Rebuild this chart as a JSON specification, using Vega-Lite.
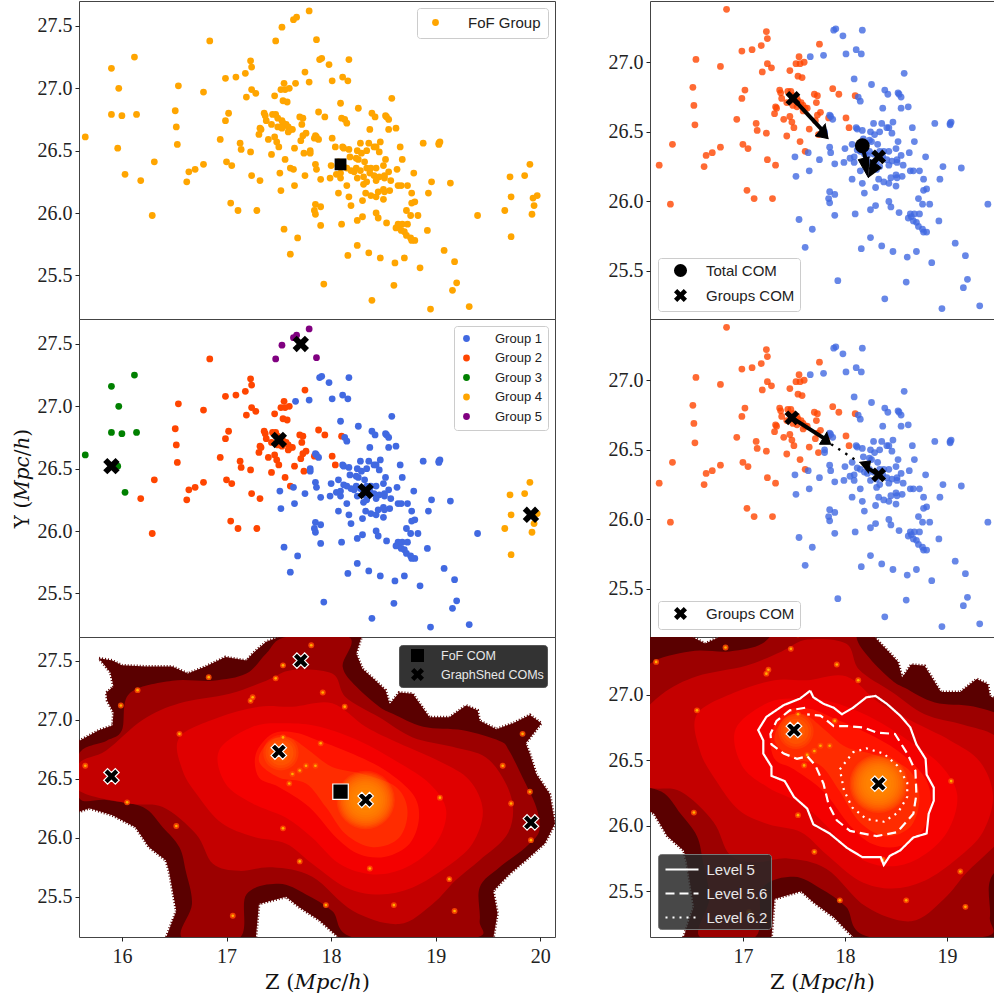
{"$schema":"https://vega.github.io/schema/vega-lite/v6.json","background":"white","padding":{"left":11,"top":0,"right":0,"bottom":0},
"config":{"view":{"stroke":"#444","strokeWidth":1,"continuousWidth":476,"continuousHeight":318},
"axis":{"grid":false,"domain":false,"ticks":true,"tickSize":4,"tickColor":"#222","labelFont":"Liberation Serif","labelFontSize":20,"labelColor":"#222","labelPadding":3,"titleFont":"DejaVu Serif","titleFontWeight":"normal","titleFontSize":18,"titleColor":"#111","title":null},
"legend":{"title":null,"labelFont":"Liberation Sans","labelFontSize":14,"labelColor":"#222","cornerRadius":3,"strokeColor":"#ccc","fillColor":"white","padding":7,"offset":7,"labelOffset":22,"columnPadding":0}},
"datasets":{
"pts":[
{"z":15.65,"y":26.61,"g":"Group 3"},{"z":15.90,"y":27.16,"g":"Group 3"},{"z":15.97,"y":27.00,"g":"Group 3"},{"z":15.90,"y":26.79,"g":"Group 3"},{"z":16.00,"y":26.78,"g":"Group 3"},{"z":16.14,"y":26.79,"g":"Group 3"},{"z":16.12,"y":27.25,"g":"Group 3"},{"z":15.96,"y":26.52,"g":"Group 3"},{"z":16.03,"y":26.31,"g":"Group 3"},
{"z":17.79,"y":27.62,"g":"Group 5"},{"z":17.67,"y":27.57,"g":"Group 5"},{"z":17.64,"y":27.55,"g":"Group 5"},{"z":17.53,"y":27.49,"g":"Group 5"},{"z":17.47,"y":27.38,"g":"Group 5"},{"z":17.86,"y":27.39,"g":"Group 5"},
{"z":19.90,"y":26.39,"g":"Group 4"},{"z":19.85,"y":26.30,"g":"Group 4"},{"z":19.71,"y":26.29,"g":"Group 4"},{"z":19.72,"y":26.13,"g":"Group 4"},{"z":19.66,"y":26.02,"g":"Group 4"},{"z":19.97,"y":26.14,"g":"Group 4"},{"z":19.94,"y":26.06,"g":"Group 4"},{"z":19.92,"y":25.99,"g":"Group 4"},{"z":19.72,"y":25.81,"g":"Group 4"},{"z":19.93,"y":26.12,"g":"Group 4"},
{"z":16.84,"y":27.38,"g":"Group 2"},{"z":17.23,"y":27.22,"g":"Group 2"},{"z":17.24,"y":27.17,"g":"Group 2"},{"z":17.18,"y":27.12,"g":"Group 2"},{"z":17.09,"y":27.09,"g":"Group 2"},{"z":16.99,"y":27.08,"g":"Group 2"},{"z":17.75,"y":27.13,"g":"Group 2"},{"z":17.55,"y":27.04,"g":"Group 2"},{"z":16.54,"y":27.02,"g":"Group 2"},{"z":16.78,"y":26.97,"g":"Group 2"},{"z":17.52,"y":26.99,"g":"Group 2"},{"z":17.56,"y":26.99,"g":"Group 2"},{"z":17.60,"y":27.00,"g":"Group 2"},{"z":17.24,"y":26.99,"g":"Group 2"},{"z":17.28,"y":26.96,"g":"Group 2"},{"z":17.19,"y":26.93,"g":"Group 2"},{"z":17.46,"y":26.94,"g":"Group 2"},{"z":17.54,"y":26.90,"g":"Group 2"},{"z":17.58,"y":26.89,"g":"Group 2"},{"z":16.51,"y":26.82,"g":"Group 2"},{"z":17.02,"y":26.80,"g":"Group 2"},{"z":16.99,"y":26.74,"g":"Group 2"},{"z":16.52,"y":26.69,"g":"Group 2"},{"z":17.36,"y":26.80,"g":"Group 2"},{"z":17.37,"y":26.78,"g":"Group 2"},{"z":17.38,"y":26.74,"g":"Group 2"},{"z":17.44,"y":26.79,"g":"Group 2"},{"z":17.47,"y":26.79,"g":"Group 2"},{"z":17.49,"y":26.76,"g":"Group 2"},{"z":17.53,"y":26.74,"g":"Group 2"},{"z":17.54,"y":26.72,"g":"Group 2"},{"z":17.57,"y":26.71,"g":"Group 2"},{"z":17.59,"y":26.69,"g":"Group 2"},{"z":17.61,"y":26.67,"g":"Group 2"},{"z":17.59,"y":26.65,"g":"Group 2"},{"z":17.53,"y":26.68,"g":"Group 2"},{"z":17.49,"y":26.69,"g":"Group 2"},{"z":17.43,"y":26.71,"g":"Group 2"},{"z":17.70,"y":26.77,"g":"Group 2"},{"z":17.73,"y":26.76,"g":"Group 2"},{"z":17.88,"y":26.81,"g":"Group 2"},{"z":17.94,"y":26.77,"g":"Group 2"},{"z":18.10,"y":26.76,"g":"Group 2"},{"z":17.72,"y":26.71,"g":"Group 2"},{"z":17.32,"y":26.68,"g":"Group 2"},{"z":17.33,"y":26.67,"g":"Group 2"},{"z":17.31,"y":26.63,"g":"Group 2"},{"z":17.63,"y":26.67,"g":"Group 2"},{"z":17.76,"y":26.64,"g":"Group 2"},{"z":17.73,"y":26.62,"g":"Group 2"},{"z":17.71,"y":26.58,"g":"Group 2"},{"z":17.84,"y":26.60,"g":"Group 2"},{"z":18.01,"y":26.60,"g":"Group 2"},{"z":17.40,"y":26.59,"g":"Group 2"},{"z":17.46,"y":26.61,"g":"Group 2"},{"z":17.48,"y":26.57,"g":"Group 2"},{"z":17.50,"y":26.53,"g":"Group 2"},{"z":16.94,"y":26.59,"g":"Group 2"},{"z":17.13,"y":26.56,"g":"Group 2"},{"z":17.14,"y":26.51,"g":"Group 2"},{"z":17.23,"y":26.49,"g":"Group 2"},{"z":17.65,"y":26.52,"g":"Group 2"},{"z":17.74,"y":26.48,"g":"Group 2"},{"z":18.04,"y":26.53,"g":"Group 2"},{"z":17.43,"y":26.47,"g":"Group 2"},{"z":17.56,"y":26.43,"g":"Group 2"},{"z":16.53,"y":26.55,"g":"Group 2"},{"z":17.00,"y":26.41,"g":"Group 2"},{"z":17.05,"y":26.38,"g":"Group 2"},{"z":16.78,"y":26.39,"g":"Group 2"},{"z":16.70,"y":26.35,"g":"Group 2"},{"z":16.64,"y":26.33,"g":"Group 2"},{"z":16.31,"y":26.41,"g":"Group 2"},{"z":17.61,"y":26.36,"g":"Group 2"},{"z":16.62,"y":26.25,"g":"Group 2"},{"z":17.24,"y":26.30,"g":"Group 2"},{"z":17.32,"y":26.26,"g":"Group 2"},{"z":16.18,"y":26.26,"g":"Group 2"},{"z":17.04,"y":26.08,"g":"Group 2"},{"z":17.11,"y":26.02,"g":"Group 2"},{"z":17.29,"y":26.02,"g":"Group 2"},{"z":16.29,"y":25.98,"g":"Group 2"},
{"z":17.89,"y":27.23,"g":"Group 1"},{"z":17.91,"y":27.24,"g":"Group 1"},{"z":17.98,"y":27.19,"g":"Group 1"},{"z":18.17,"y":27.23,"g":"Group 1"},{"z":17.66,"y":27.04,"g":"Group 1"},{"z":17.79,"y":27.05,"g":"Group 1"},{"z":18.01,"y":27.06,"g":"Group 1"},{"z":18.11,"y":27.09,"g":"Group 1"},{"z":18.16,"y":27.06,"g":"Group 1"},{"z":18.58,"y":26.92,"g":"Group 1"},{"z":18.09,"y":26.88,"g":"Group 1"},{"z":18.26,"y":26.84,"g":"Group 1"},{"z":18.39,"y":26.80,"g":"Group 1"},{"z":18.42,"y":26.77,"g":"Group 1"},{"z":18.52,"y":26.78,"g":"Group 1"},{"z":18.53,"y":26.77,"g":"Group 1"},{"z":18.55,"y":26.75,"g":"Group 1"},{"z":18.13,"y":26.75,"g":"Group 1"},{"z":18.15,"y":26.72,"g":"Group 1"},{"z":18.37,"y":26.67,"g":"Group 1"},{"z":18.55,"y":26.67,"g":"Group 1"},{"z":18.62,"y":26.68,"g":"Group 1"},{"z":17.85,"y":26.62,"g":"Group 1"},{"z":17.86,"y":26.61,"g":"Group 1"},{"z":17.88,"y":26.59,"g":"Group 1"},{"z":18.28,"y":26.56,"g":"Group 1"},{"z":18.36,"y":26.56,"g":"Group 1"},{"z":18.47,"y":26.57,"g":"Group 1"},{"z":18.41,"y":26.53,"g":"Group 1"},{"z":18.43,"y":26.53,"g":"Group 1"},{"z":18.34,"y":26.50,"g":"Group 1"},{"z":18.46,"y":26.49,"g":"Group 1"},{"z":18.66,"y":26.53,"g":"Group 1"},{"z":18.88,"y":26.56,"g":"Group 1"},{"z":19.04,"y":26.57,"g":"Group 1"},{"z":19.03,"y":26.56,"g":"Group 1"},{"z":19.03,"y":26.55,"g":"Group 1"},{"z":18.11,"y":26.53,"g":"Group 1"},{"z":18.12,"y":26.52,"g":"Group 1"},{"z":18.17,"y":26.51,"g":"Group 1"},{"z":17.80,"y":26.50,"g":"Group 1"},{"z":17.80,"y":26.48,"g":"Group 1"},{"z":18.25,"y":26.50,"g":"Group 1"},{"z":18.29,"y":26.48,"g":"Group 1"},{"z":18.18,"y":26.45,"g":"Group 1"},{"z":18.24,"y":26.44,"g":"Group 1"},{"z":18.26,"y":26.43,"g":"Group 1"},{"z":18.32,"y":26.41,"g":"Group 1"},{"z":18.68,"y":26.43,"g":"Group 1"},{"z":18.07,"y":26.41,"g":"Group 1"},{"z":18.52,"y":26.43,"g":"Group 1"},{"z":17.85,"y":26.39,"g":"Group 1"},{"z":18.00,"y":26.38,"g":"Group 1"},{"z":18.50,"y":26.38,"g":"Group 1"},{"z":17.86,"y":26.35,"g":"Group 1"},{"z":18.12,"y":26.37,"g":"Group 1"},{"z":18.15,"y":26.36,"g":"Group 1"},{"z":18.19,"y":26.34,"g":"Group 1"},{"z":18.22,"y":26.33,"g":"Group 1"},{"z":18.24,"y":26.36,"g":"Group 1"},{"z":18.28,"y":26.34,"g":"Group 1"},{"z":18.34,"y":26.36,"g":"Group 1"},{"z":18.38,"y":26.36,"g":"Group 1"},{"z":18.43,"y":26.36,"g":"Group 1"},{"z":17.64,"y":26.35,"g":"Group 1"},{"z":18.63,"y":26.35,"g":"Group 1"},{"z":17.51,"y":26.32,"g":"Group 1"},{"z":17.75,"y":26.30,"g":"Group 1"},{"z":18.05,"y":26.31,"g":"Group 1"},{"z":18.09,"y":26.32,"g":"Group 1"},{"z":17.99,"y":26.28,"g":"Group 1"},{"z":18.09,"y":26.28,"g":"Group 1"},{"z":18.37,"y":26.32,"g":"Group 1"},{"z":18.31,"y":26.29,"g":"Group 1"},{"z":18.41,"y":26.30,"g":"Group 1"},{"z":18.46,"y":26.29,"g":"Group 1"},{"z":18.51,"y":26.30,"g":"Group 1"},{"z":18.55,"y":26.33,"g":"Group 1"},{"z":18.79,"y":26.32,"g":"Group 1"},{"z":17.90,"y":26.27,"g":"Group 1"},{"z":18.25,"y":26.28,"g":"Group 1"},{"z":18.34,"y":26.25,"g":"Group 1"},{"z":18.31,"y":26.23,"g":"Group 1"},{"z":18.43,"y":26.26,"g":"Group 1"},{"z":18.51,"y":26.28,"g":"Group 1"},{"z":18.57,"y":26.26,"g":"Group 1"},{"z":18.96,"y":26.25,"g":"Group 1"},{"z":19.14,"y":26.24,"g":"Group 1"},{"z":17.65,"y":26.22,"g":"Group 1"},{"z":18.15,"y":26.22,"g":"Group 1"},{"z":18.64,"y":26.22,"g":"Group 1"},{"z":18.67,"y":26.22,"g":"Group 1"},{"z":18.73,"y":26.22,"g":"Group 1"},{"z":17.52,"y":26.18,"g":"Group 1"},{"z":18.07,"y":26.16,"g":"Group 1"},{"z":18.33,"y":26.16,"g":"Group 1"},{"z":18.38,"y":26.14,"g":"Group 1"},{"z":18.43,"y":26.13,"g":"Group 1"},{"z":18.45,"y":26.17,"g":"Group 1"},{"z":18.50,"y":26.19,"g":"Group 1"},{"z":18.56,"y":26.18,"g":"Group 1"},{"z":18.51,"y":26.17,"g":"Group 1"},{"z":18.50,"y":26.11,"g":"Group 1"},{"z":18.77,"y":26.16,"g":"Group 1"},{"z":18.93,"y":26.16,"g":"Group 1"},{"z":18.17,"y":26.13,"g":"Group 1"},{"z":18.30,"y":26.10,"g":"Group 1"},{"z":18.80,"y":26.09,"g":"Group 1"},{"z":18.77,"y":26.08,"g":"Group 1"},{"z":18.19,"y":26.06,"g":"Group 1"},{"z":17.85,"y":26.07,"g":"Group 1"},{"z":17.90,"y":26.05,"g":"Group 1"},{"z":17.84,"y":26.02,"g":"Group 1"},{"z":17.85,"y":25.99,"g":"Group 1"},{"z":18.72,"y":26.02,"g":"Group 1"},{"z":18.43,"y":26.00,"g":"Group 1"},{"z":18.76,"y":25.98,"g":"Group 1"},{"z":18.83,"y":25.98,"g":"Group 1"},{"z":19.40,"y":25.98,"g":"Group 1"},{"z":18.30,"y":25.97,"g":"Group 1"},{"z":18.45,"y":25.96,"g":"Group 1"},{"z":18.25,"y":25.94,"g":"Group 1"},{"z":17.90,"y":25.90,"g":"Group 1"},{"z":18.10,"y":25.91,"g":"Group 1"},{"z":18.53,"y":25.92,"g":"Group 1"},{"z":18.64,"y":25.91,"g":"Group 1"},{"z":18.68,"y":25.91,"g":"Group 1"},{"z":18.73,"y":25.91,"g":"Group 1"},{"z":18.65,"y":25.89,"g":"Group 1"},{"z":18.62,"y":25.88,"g":"Group 1"},{"z":17.55,"y":25.87,"g":"Group 1"},{"z":18.92,"y":25.86,"g":"Group 1"},{"z":18.67,"y":25.86,"g":"Group 1"},{"z":18.70,"y":25.85,"g":"Group 1"},{"z":18.72,"y":25.82,"g":"Group 1"},{"z":18.76,"y":25.80,"g":"Group 1"},{"z":18.77,"y":25.78,"g":"Group 1"},{"z":18.80,"y":25.78,"g":"Group 1"},{"z":17.68,"y":25.80,"g":"Group 1"},{"z":18.25,"y":25.74,"g":"Group 1"},{"z":17.61,"y":25.67,"g":"Group 1"},{"z":18.36,"y":25.68,"g":"Group 1"},{"z":18.16,"y":25.66,"g":"Group 1"},{"z":18.47,"y":25.64,"g":"Group 1"},{"z":18.70,"y":25.64,"g":"Group 1"},{"z":19.08,"y":25.70,"g":"Group 1"},{"z":18.61,"y":25.60,"g":"Group 1"},{"z":19.18,"y":25.61,"g":"Group 1"},{"z":18.85,"y":25.56,"g":"Group 1"},{"z":17.93,"y":25.43,"g":"Group 1"},{"z":18.60,"y":25.42,"g":"Group 1"},{"z":19.20,"y":25.44,"g":"Group 1"},{"z":19.16,"y":25.38,"g":"Group 1"},{"z":18.39,"y":25.30,"g":"Group 1"},{"z":19.32,"y":25.25,"g":"Group 1"},{"z":18.95,"y":25.23,"g":"Group 1"}
],
"coms":[{"z":15.90,"y":26.52,"g":"Group 3"},{"z":17.50,"y":26.73,"g":"Group 2"},{"z":17.71,"y":27.50,"g":"Group 5"},{"z":18.33,"y":26.32,"g":"Group 1"},{"z":19.91,"y":26.13,"g":"Group 4"}],
"poly":[
{"z":15.59,"y":26.82,"b":"a"},{"z":15.78,"y":26.91,"b":"a"},{"z":15.91,"y":26.95,"b":"a"},{"z":15.92,"y":27.06,"b":"a"},{"z":15.86,"y":27.16,"b":"a"},{"z":15.85,"y":27.23,"b":"a"},{"z":15.92,"y":27.28,"b":"a"},{"z":15.89,"y":27.40,"b":"a"},{"z":15.78,"y":27.52,"b":"a"},{"z":15.91,"y":27.50,"b":"a"},{"z":16.00,"y":27.46,"b":"a"},{"z":16.23,"y":27.45,"b":"a"},{"z":16.48,"y":27.45,"b":"a"},{"z":16.63,"y":27.39,"b":"a"},{"z":16.80,"y":27.45,"b":"a"},{"z":16.99,"y":27.53,"b":"a"},{"z":17.19,"y":27.50,"b":"a"},{"z":17.25,"y":27.56,"b":"a"},{"z":17.38,"y":27.66,"b":"a"},{"z":17.50,"y":27.70,"b":"a"},{"z":18.29,"y":27.70,"b":"a"},{"z":18.24,"y":27.56,"b":"a"},{"z":18.30,"y":27.43,"b":"a"},{"z":18.40,"y":27.35,"b":"a"},{"z":18.52,"y":27.25,"b":"a"},{"z":18.56,"y":27.13,"b":"a"},{"z":18.65,"y":27.23,"b":"a"},{"z":18.78,"y":27.22,"b":"a"},{"z":18.86,"y":27.12,"b":"a"},{"z":18.94,"y":27.02,"b":"a"},{"z":19.13,"y":27.02,"b":"a"},{"z":19.29,"y":27.12,"b":"a"},{"z":19.40,"y":27.08,"b":"a"},{"z":19.42,"y":26.99,"b":"a"},{"z":19.58,"y":26.92,"b":"a"},{"z":19.74,"y":26.97,"b":"a"},{"z":19.90,"y":27.04,"b":"a"},{"z":20.01,"y":26.97,"b":"a"},{"z":19.86,"y":26.80,"b":"a"},{"z":19.90,"y":26.71,"b":"a"},{"z":19.96,"y":26.54,"b":"a"},{"z":20.09,"y":26.37,"b":"a"},{"z":20.14,"y":26.12,"b":"a"},{"z":20.04,"y":25.95,"b":"a"},{"z":19.86,"y":25.81,"b":"a"},{"z":19.70,"y":25.69,"b":"a"},{"z":19.55,"y":25.55,"b":"a"},{"z":19.59,"y":25.36,"b":"a"},{"z":19.55,"y":25.15,"b":"a"},{"z":18.08,"y":25.15,"b":"a"},{"z":17.89,"y":25.30,"b":"a"},{"z":17.70,"y":25.41,"b":"a"},{"z":17.57,"y":25.50,"b":"a"},{"z":17.31,"y":25.44,"b":"a"},{"z":17.28,"y":25.15,"b":"a"},{"z":16.42,"y":25.15,"b":"a"},{"z":16.52,"y":25.38,"b":"a"},{"z":16.45,"y":25.72,"b":"a"},{"z":16.42,"y":25.81,"b":"a"},{"z":16.26,"y":25.92,"b":"a"},{"z":16.13,"y":26.09,"b":"a"},{"z":15.91,"y":26.19,"b":"a"},{"z":15.69,"y":26.25,"b":"a"},{"z":15.59,"y":26.22,"b":"a"},
{"z":15.59,"y":26.71,"b":"b"},{"z":15.85,"y":26.82,"b":"b"},{"z":16.00,"y":26.91,"b":"b"},{"z":16.07,"y":27.22,"b":"b"},{"z":16.48,"y":27.33,"b":"b"},{"z":16.87,"y":27.33,"b":"b"},{"z":17.19,"y":27.39,"b":"b"},{"z":17.38,"y":27.56,"b":"b"},{"z":17.57,"y":27.70,"b":"b"},{"z":18.17,"y":27.70,"b":"b"},{"z":18.11,"y":27.45,"b":"b"},{"z":18.24,"y":27.28,"b":"b"},{"z":18.46,"y":27.11,"b":"b"},{"z":18.59,"y":27.05,"b":"b"},{"z":18.88,"y":26.94,"b":"b"},{"z":19.26,"y":26.91,"b":"b"},{"z":19.61,"y":26.82,"b":"b"},{"z":19.70,"y":26.74,"b":"b"},{"z":19.83,"y":26.51,"b":"b"},{"z":19.96,"y":26.26,"b":"b"},{"z":19.99,"y":26.06,"b":"b"},{"z":19.86,"y":25.92,"b":"b"},{"z":19.61,"y":25.75,"b":"b"},{"z":19.42,"y":25.58,"b":"b"},{"z":19.42,"y":25.30,"b":"b"},{"z":19.35,"y":25.15,"b":"b"},{"z":18.24,"y":25.15,"b":"b"},{"z":18.01,"y":25.38,"b":"b"},{"z":17.76,"y":25.52,"b":"b"},{"z":17.50,"y":25.61,"b":"b"},{"z":17.19,"y":25.52,"b":"b"},{"z":17.12,"y":25.15,"b":"b"},{"z":16.58,"y":25.15,"b":"b"},{"z":16.67,"y":25.44,"b":"b"},{"z":16.61,"y":25.72,"b":"b"},{"z":16.55,"y":25.92,"b":"b"},{"z":16.39,"y":26.09,"b":"b"},{"z":16.20,"y":26.26,"b":"b"},{"z":15.85,"y":26.32,"b":"b"},{"z":15.59,"y":26.34,"b":"b"},
{"z":15.59,"y":26.63,"b":"c"},{"z":15.85,"y":26.74,"b":"c"},{"z":16.20,"y":27.00,"b":"c"},{"z":16.55,"y":27.14,"b":"c"},{"z":17.03,"y":27.22,"b":"c"},{"z":17.38,"y":27.33,"b":"c"},{"z":17.63,"y":27.42,"b":"c"},{"z":18.01,"y":27.39,"b":"c"},{"z":18.14,"y":27.19,"b":"c"},{"z":18.46,"y":27.02,"b":"c"},{"z":18.78,"y":26.85,"b":"c"},{"z":19.16,"y":26.77,"b":"c"},{"z":19.48,"y":26.68,"b":"c"},{"z":19.67,"y":26.46,"b":"c"},{"z":19.74,"y":26.23,"b":"c"},{"z":19.67,"y":26.01,"b":"c"},{"z":19.42,"y":25.81,"b":"c"},{"z":19.19,"y":25.64,"b":"c"},{"z":18.97,"y":25.44,"b":"c"},{"z":18.65,"y":25.27,"b":"c"},{"z":18.21,"y":25.38,"b":"c"},{"z":17.82,"y":25.67,"b":"c"},{"z":17.44,"y":25.75,"b":"c"},{"z":17.12,"y":25.72,"b":"c"},{"z":16.87,"y":25.78,"b":"c"},{"z":16.71,"y":26.03,"b":"c"},{"z":16.39,"y":26.26,"b":"c"},{"z":16.07,"y":26.29,"b":"c"},{"z":15.59,"y":26.40,"b":"c"},
{"z":16.55,"y":26.85,"b":"d"},{"z":16.93,"y":27.02,"b":"d"},{"z":17.31,"y":27.11,"b":"d"},{"z":17.63,"y":27.11,"b":"d"},{"z":18.01,"y":27.14,"b":"d"},{"z":18.33,"y":26.94,"b":"d"},{"z":18.65,"y":26.80,"b":"d"},{"z":19.03,"y":26.65,"b":"d"},{"z":19.32,"y":26.49,"b":"d"},{"z":19.45,"y":26.23,"b":"d"},{"z":19.35,"y":25.95,"b":"d"},{"z":19.10,"y":25.75,"b":"d"},{"z":18.78,"y":25.58,"b":"d"},{"z":18.46,"y":25.52,"b":"d"},{"z":18.14,"y":25.58,"b":"d"},{"z":17.82,"y":25.78,"b":"d"},{"z":17.57,"y":25.95,"b":"d"},{"z":17.25,"y":26.01,"b":"d"},{"z":16.96,"y":26.12,"b":"d"},{"z":16.74,"y":26.34,"b":"d"},{"z":16.58,"y":26.57,"b":"d"},
{"z":16.93,"y":26.74,"b":"e"},{"z":17.25,"y":26.94,"b":"e"},{"z":17.57,"y":26.97,"b":"e"},{"z":17.89,"y":26.94,"b":"e"},{"z":18.27,"y":26.82,"b":"e"},{"z":18.62,"y":26.65,"b":"e"},{"z":18.94,"y":26.46,"b":"e"},{"z":19.10,"y":26.23,"b":"e"},{"z":19.00,"y":25.95,"b":"e"},{"z":18.72,"y":25.75,"b":"e"},{"z":18.40,"y":25.69,"b":"e"},{"z":18.08,"y":25.78,"b":"e"},{"z":17.82,"y":26.00,"b":"e"},{"z":17.57,"y":26.17,"b":"e"},{"z":17.25,"y":26.29,"b":"e"},{"z":16.99,"y":26.46,"b":"e"},
{"z":17.28,"y":26.71,"b":"f"},{"z":17.44,"y":26.88,"b":"f"},{"z":17.66,"y":26.89,"b":"f"},{"z":17.89,"y":26.82,"b":"f"},{"z":18.21,"y":26.71,"b":"f"},{"z":18.52,"y":26.57,"b":"f"},{"z":18.78,"y":26.37,"b":"f"},{"z":18.84,"y":26.17,"b":"f"},{"z":18.75,"y":25.95,"b":"f"},{"z":18.52,"y":25.84,"b":"f"},{"z":18.27,"y":25.86,"b":"f"},{"z":18.05,"y":26.00,"b":"f"},{"z":17.79,"y":26.26,"b":"f"},{"z":17.50,"y":26.43,"b":"f"},{"z":17.31,"y":26.51,"b":"f"},
{"z":17.31,"y":26.65,"b":"g"},{"z":17.41,"y":26.82,"b":"g"},{"z":17.60,"y":26.85,"b":"g"},{"z":17.79,"y":26.74,"b":"g"},{"z":18.01,"y":26.60,"b":"g"},{"z":18.30,"y":26.54,"b":"g"},{"z":18.62,"y":26.43,"b":"g"},{"z":18.73,"y":26.23,"b":"g"},{"z":18.65,"y":26.00,"b":"g"},{"z":18.40,"y":25.92,"b":"g"},{"z":18.14,"y":26.03,"b":"g"},{"z":17.95,"y":26.26,"b":"g"},{"z":17.76,"y":26.46,"b":"g"},{"z":17.50,"y":26.51,"b":"g"}
],
"glow":[{"z":18.33,"y":26.32,"rad":12},{"z":18.33,"y":26.32,"rad":11},{"z":18.33,"y":26.32,"rad":10},{"z":18.33,"y":26.32,"rad":9},{"z":18.33,"y":26.32,"rad":8},{"z":18.33,"y":26.32,"rad":7},{"z":18.33,"y":26.32,"rad":6},{"z":18.33,"y":26.32,"rad":5},{"z":18.33,"y":26.32,"rad":4},{"z":18.33,"y":26.32,"rad":3},{"z":18.33,"y":26.32,"rad":2},{"z":18.33,"y":26.32,"rad":1},{"z":17.52,"y":26.72,"rad":5},{"z":17.52,"y":26.72,"rad":4},{"z":17.52,"y":26.72,"rad":3},{"z":17.52,"y":26.72,"rad":2}],
"spots":[{"z":15.99,"y":27.12},{"z":16.05,"y":26.30},{"z":16.55,"y":26.88},{"z":17.23,"y":27.16},{"z":17.25,"y":27.19},{"z":17.54,"y":27.46},{"z":17.47,"y":27.35},{"z":17.81,"y":27.63},{"z":16.83,"y":27.36},{"z":16.15,"y":27.25},{"z":17.92,"y":27.23},{"z":18.13,"y":27.11},{"z":19.83,"y":26.88},{"z":19.64,"y":26.61},{"z":19.72,"y":26.29},{"z":19.04,"y":26.34},{"z":19.91,"y":25.98},{"z":17.95,"y":25.43},{"z":19.18,"y":25.38},{"z":18.60,"y":25.43},{"z":18.37,"y":25.74},{"z":19.13,"y":25.65},{"z":17.70,"y":25.80},{"z":17.54,"y":26.08},{"z":16.52,"y":26.10},{"z":17.06,"y":25.34},{"z":15.65,"y":26.61},{"z":17.76,"y":26.61},{"z":17.85,"y":26.61},{"z":17.63,"y":26.54},{"z":17.90,"y":26.80},{"z":19.90,"y":26.39},{"z":17.54,"y":26.85},{"z":17.60,"y":26.46},{"z":17.70,"y":26.57}],
"contours":[
{"z":17.66,"y":27.03,"k":"Level 5"},{"z":17.69,"y":26.98,"k":"Level 5"},{"z":17.79,"y":26.93,"k":"Level 5"},{"z":17.89,"y":26.90,"k":"Level 5"},{"z":17.97,"y":26.85,"k":"Level 5"},{"z":18.08,"y":26.90,"k":"Level 5"},{"z":18.21,"y":26.98,"k":"Level 5"},{"z":18.30,"y":26.99,"k":"Level 5"},{"z":18.41,"y":26.93,"k":"Level 5"},{"z":18.54,"y":26.84,"k":"Level 5"},{"z":18.64,"y":26.75,"k":"Level 5"},{"z":18.70,"y":26.62,"k":"Level 5"},{"z":18.79,"y":26.51,"k":"Level 5"},{"z":18.80,"y":26.39,"k":"Level 5"},{"z":18.87,"y":26.29,"k":"Level 5"},{"z":18.87,"y":26.19,"k":"Level 5"},{"z":18.82,"y":26.09,"k":"Level 5"},{"z":18.80,"y":25.94,"k":"Level 5"},{"z":18.67,"y":25.91,"k":"Level 5"},{"z":18.54,"y":25.81,"k":"Level 5"},{"z":18.44,"y":25.77,"k":"Level 5"},{"z":18.38,"y":25.70,"k":"Level 5"},{"z":18.35,"y":25.76,"k":"Level 5"},{"z":18.17,"y":25.76,"k":"Level 5"},{"z":18.02,"y":25.83,"k":"Level 5"},{"z":17.85,"y":25.94,"k":"Level 5"},{"z":17.69,"y":26.01,"k":"Level 5"},{"z":17.63,"y":26.13,"k":"Level 5"},{"z":17.50,"y":26.22,"k":"Level 5"},{"z":17.41,"y":26.34,"k":"Level 5"},{"z":17.28,"y":26.38,"k":"Level 5"},{"z":17.28,"y":26.45,"k":"Level 5"},{"z":17.20,"y":26.55,"k":"Level 5"},{"z":17.20,"y":26.65,"k":"Level 5"},{"z":17.15,"y":26.73,"k":"Level 5"},{"z":17.23,"y":26.83,"k":"Level 5"},{"z":17.40,"y":26.92,"k":"Level 5"},{"z":17.56,"y":26.97,"k":"Level 5"},{"z":17.66,"y":27.03,"k":"Level 5"},
{"z":17.61,"y":26.90,"k":"Level 5.6"},{"z":17.46,"y":26.88,"k":"Level 5.6"},{"z":17.33,"y":26.80,"k":"Level 5.6"},{"z":17.27,"y":26.70,"k":"Level 5.6"},{"z":17.28,"y":26.62,"k":"Level 5.6"},{"z":17.40,"y":26.55,"k":"Level 5.6"},{"z":17.53,"y":26.51,"k":"Level 5.6"},{"z":17.63,"y":26.53,"k":"Level 5.6"},{"z":17.71,"y":26.46,"k":"Level 5.6"},{"z":17.79,"y":26.32,"k":"Level 5.6"},{"z":17.84,"y":26.16,"k":"Level 5.6"},{"z":17.92,"y":26.04,"k":"Level 5.6"},{"z":18.05,"y":25.96,"k":"Level 5.6"},{"z":18.31,"y":25.92,"k":"Level 5.6"},{"z":18.51,"y":25.95,"k":"Level 5.6"},{"z":18.67,"y":26.09,"k":"Level 5.6"},{"z":18.70,"y":26.24,"k":"Level 5.6"},{"z":18.69,"y":26.42,"k":"Level 5.6"},{"z":18.61,"y":26.55,"k":"Level 5.6"},{"z":18.49,"y":26.70,"k":"Level 5.6"},{"z":18.31,"y":26.71,"k":"Level 5.6"},{"z":18.18,"y":26.75,"k":"Level 5.6"},{"z":18.02,"y":26.76,"k":"Level 5.6"},{"z":17.89,"y":26.76,"k":"Level 5.6"},{"z":17.76,"y":26.84,"k":"Level 5.6"},{"z":17.63,"y":26.85,"k":"Level 5.6"},
{"z":17.95,"y":26.43,"k":"Level 6.2"},{"z":18.08,"y":26.56,"k":"Level 6.2"},{"z":18.21,"y":26.59,"k":"Level 6.2"},{"z":18.38,"y":26.55,"k":"Level 6.2"},{"z":18.51,"y":26.46,"k":"Level 6.2"},{"z":18.61,"y":26.33,"k":"Level 6.2"},{"z":18.61,"y":26.22,"k":"Level 6.2"},{"z":18.52,"y":26.10,"k":"Level 6.2"},{"z":18.38,"y":26.03,"k":"Level 6.2"},{"z":18.21,"y":26.05,"k":"Level 6.2"},{"z":18.07,"y":26.14,"k":"Level 6.2"},{"z":17.99,"y":26.27,"k":"Level 6.2"},{"z":17.95,"y":26.43,"k":"Level 6.2"}
],
"arrowsTop":[{"z":17.49,"y":26.74,"a":"a1"},{"z":17.78,"y":26.51,"a":"a1"},{"z":18.17,"y":26.40,"a":"a2"},{"z":18.21,"y":26.28,"a":"a2"},{"z":18.33,"y":26.32,"a":"a3"},{"z":18.26,"y":26.25,"a":"a3"}],
"headsTop":[{"z":17.84,"y":26.45,"a":"a1"},{"z":17.71,"y":26.47,"a":"a1"},{"z":17.81,"y":26.56,"a":"a1"},{"z":18.23,"y":26.17,"a":"a2"},{"z":18.13,"y":26.30,"a":"a2"},{"z":18.24,"y":26.32,"a":"a2"},{"z":18.23,"y":26.17,"a":"a3"},{"z":18.25,"y":26.30,"a":"a3"},{"z":18.36,"y":26.24,"a":"a3"}],
"arrowsMid":[{"z":17.48,"y":26.73,"a":"a1"},{"z":17.80,"y":26.58,"a":"a1"},{"z":18.33,"y":26.32,"a":"a2"},{"z":18.22,"y":26.37,"a":"a2"}],
"headsMid":[{"z":17.865,"y":26.54,"a":"a1"},{"z":17.75,"y":26.54,"a":"a1"},{"z":17.825,"y":26.63,"a":"a1"},{"z":18.14,"y":26.41,"a":"a2"},{"z":18.25,"y":26.42,"a":"a2"},{"z":18.23,"y":26.33,"a":"a2"}],
"dots":[{"z":17.865,"y":26.54},{"z":18.14,"y":26.41}],
"fof":[{"z":18.09,"y":26.39,"kind":"FoF COM"}],
"comsTop":[{"z":18.17,"y":26.40,"kind":"Total COM"},{"z":17.49,"y":26.74,"kind":"Groups COM"},{"z":18.33,"y":26.32,"kind":"Groups COM"}],
"comsMid":[{"z":17.48,"y":26.73,"kind":"Groups COM"},{"z":18.33,"y":26.32,"kind":"Groups COM"}],
"comsImg":[{"z":18.09,"y":26.39,"kind":"FoF COM"},{"z":15.90,"y":26.52,"kind":"GraphShed COMs"},{"z":17.50,"y":26.73,"kind":"GraphShed COMs"},{"z":17.71,"y":27.50,"kind":"GraphShed COMs"},{"z":18.33,"y":26.32,"kind":"GraphShed COMs"},{"z":19.91,"y":26.13,"kind":"GraphShed COMs"}],
"comsImg2":[{"z":17.50,"y":26.73},{"z":18.33,"y":26.32}]
},
"columns":2,"spacing":{"row":0,"column":95},"bounds":"flush",
"resolve":{"scale":{"color":"independent","fill":"independent","shape":"independent","strokeDash":"independent","size":"independent"},"legend":{"color":"independent","fill":"independent","shape":"independent","strokeDash":"independent"}},
"concat":[
{"width":476,"height":318,"layer":[
{"data":{"name":"pts"},"mark":{"type":"circle","size":46,"opacity":1,"clip":true},"encoding":{
"x":{"field":"z","type":"quantitative","scale":{"domain":[15.59,20.14],"zero":false,"nice":false},"axis":null},
"y":{"field":"y","type":"quantitative","scale":{"domain":[25.15,27.70],"zero":false,"nice":false},"axis":{"values":[25.5,26,26.5,27,27.5],"format":".1f"}},
"color":{"datum":"FoF Group","type":"nominal","scale":{"domain":["FoF Group"],"range":["orange"]},"legend":{"orient":"top-right","symbolSize":46,"labelFontSize":15,"labelOffset":25,"symbolOffset":4,"padding":7}}}},
{"data":{"name":"fof"},"mark":{"type":"square","size":140,"color":"black","opacity":1,"clip":true},"encoding":{"x":{"field":"z","type":"quantitative"},"y":{"field":"y","type":"quantitative"}}}
]},
{"width":344,"height":318,"layer":[
{"data":{"name":"pts"},"transform":[{"filter":"datum.g==='Group 1'||datum.g==='Group 2'"}],"mark":{"type":"circle","size":46,"opacity":0.8,"clip":true},"encoding":{
"x":{"field":"z","type":"quantitative","scale":{"domain":[16.09,19.46],"zero":false,"nice":false},"axis":null},
"y":{"field":"y","type":"quantitative","scale":{"domain":[25.155,27.44],"zero":false,"nice":false},"axis":{"values":[25.5,26,26.5,27],"format":".1f"}},
"color":{"field":"g","type":"nominal","scale":{"domain":["Group 1","Group 2"],"range":["royalblue","orangered"]},"legend":null}}},
{"data":{"name":"arrowsTop"},"mark":{"type":"line","color":"black","strokeWidth":4,"clip":true},"encoding":{"x":{"field":"z","type":"quantitative"},"y":{"field":"y","type":"quantitative"},"detail":{"field":"a"},"order":{"value":null}}},
{"data":{"name":"headsTop"},"mark":{"type":"line","fill":"black","stroke":"black","strokeWidth":1,"clip":true},"encoding":{"x":{"field":"z","type":"quantitative"},"y":{"field":"y","type":"quantitative"},"detail":{"field":"a"},"order":{"value":null}}},
{"data":{"name":"comsTop"},"mark":{"type":"point","filled":true,"size":220,"color":"black","opacity":1,"clip":true},"encoding":{"x":{"field":"z","type":"quantitative"},"y":{"field":"y","type":"quantitative"},
"shape":{"field":"kind","type":"nominal","sort":null,"scale":{"domain":["Total COM","Groups COM"],"range":["circle","M-0.5,-1L0,-0.5L0.5,-1L1,-0.5L0.5,0L1,0.5L0.5,1L0,0.5L-0.5,1L-1,0.5L-0.5,0L-1,-0.5Z"]},"legend":{"orient":"bottom-left","offset":8,"symbolSize":170,"symbolFillColor":"black","symbolStrokeColor":"black","labelOffset":18,"labelFontSize":15,"symbolOffset":10,"padding":5,"rowPadding":4}}}}
]},
{"width":476,"height":318,"layer":[
{"data":{"name":"pts"},"mark":{"type":"circle","size":46,"opacity":1,"clip":true},"encoding":{
"x":{"field":"z","type":"quantitative","scale":{"domain":[15.59,20.14],"zero":false,"nice":false},"axis":null},
"y":{"field":"y","type":"quantitative","scale":{"domain":[25.15,27.70],"zero":false,"nice":false},"axis":{"values":[25.5,26,26.5,27,27.5],"format":".1f","title":"Y (𝑀𝑝𝑐/ℎ)","titleFontSize":20,"titlePadding":5}},
"color":{"field":"g","type":"nominal","scale":{"domain":["Group 1","Group 2","Group 3","Group 4","Group 5"],"range":["royalblue","orangered","green","orange","purple"]},"legend":{"orient":"top-right","symbolSize":46,"labelFontSize":13,"labelOffset":22,"rowPadding":5.5,"padding":6}}}},
{"data":{"name":"coms"},"mark":{"type":"point","filled":true,"size":270,"color":"black","opacity":1,"clip":true,"shape":"M-0.5,-1L0,-0.5L0.5,-1L1,-0.5L0.5,0L1,0.5L0.5,1L0,0.5L-0.5,1L-1,0.5L-0.5,0L-1,-0.5Z"},"encoding":{"x":{"field":"z","type":"quantitative"},"y":{"field":"y","type":"quantitative"}}}
]},
{"width":344,"height":318,"layer":[
{"data":{"name":"pts"},"transform":[{"filter":"datum.g==='Group 1'||datum.g==='Group 2'"}],"mark":{"type":"circle","size":46,"opacity":0.8,"clip":true},"encoding":{
"x":{"field":"z","type":"quantitative","scale":{"domain":[16.09,19.46],"zero":false,"nice":false},"axis":null},
"y":{"field":"y","type":"quantitative","scale":{"domain":[25.155,27.44],"zero":false,"nice":false},"axis":{"values":[25.5,26,26.5,27],"format":".1f"}},
"color":{"field":"g","type":"nominal","scale":{"domain":["Group 1","Group 2"],"range":["royalblue","orangered"]},"legend":null}}},
{"data":{"name":"arrowsMid"},"mark":{"type":"line","color":"black","strokeWidth":4,"clip":true},"encoding":{"x":{"field":"z","type":"quantitative"},"y":{"field":"y","type":"quantitative"},"detail":{"field":"a"},"order":{"value":null}}},
{"data":{"name":"headsMid"},"mark":{"type":"line","fill":"black","stroke":"black","strokeWidth":1,"clip":true},"encoding":{"x":{"field":"z","type":"quantitative"},"y":{"field":"y","type":"quantitative"},"detail":{"field":"a"},"order":{"value":null}}},
{"data":{"name":"dots"},"mark":{"type":"line","color":"black","strokeWidth":2.4,"strokeDash":[2.4,6],"clip":true},"encoding":{"x":{"field":"z","type":"quantitative"},"y":{"field":"y","type":"quantitative"},"order":{"value":null}}},
{"data":{"name":"comsMid"},"mark":{"type":"point","filled":true,"size":220,"color":"black","opacity":1,"clip":true},"encoding":{"x":{"field":"z","type":"quantitative"},"y":{"field":"y","type":"quantitative"},
"shape":{"field":"kind","type":"nominal","scale":{"domain":["Groups COM"],"range":["M-0.5,-1L0,-0.5L0.5,-1L1,-0.5L0.5,0L1,0.5L0.5,1L0,0.5L-0.5,1L-1,0.5L-0.5,0L-1,-0.5Z"]},"legend":{"orient":"bottom-left","offset":8,"symbolSize":170,"symbolFillColor":"black","symbolStrokeColor":"black","labelOffset":18,"labelFontSize":15,"symbolOffset":10,"padding":5}}}}
]},
{"width":476,"height":300,"layer":[
{"data":{"name":"poly"},"transform":[{"filter":"datum.b==='a'"}],"mark":{"type":"line","stroke":"#5a0000","strokeWidth":3,"strokeDash":[1,2],"clip":true},"encoding":{
"x":{"field":"z","type":"quantitative","scale":{"domain":[15.59,20.14],"zero":false,"nice":false},"axis":{"values":[16,17,18,19,20],"format":"d","title":"Z (𝑀𝑝𝑐/ℎ)","titleFontSize":21,"titlePadding":5,"labelPadding":5}},
"y":{"field":"y","type":"quantitative","scale":{"domain":[25.16,27.70],"zero":false,"nice":false},"axis":{"values":[25.5,26,26.5,27,27.5],"format":".1f"}},
"fill":{"field":"b","type":"nominal","scale":{"domain":["a","b","c","d","e","f","g"],"range":["#5a0000","#9c0000","#c40000","#e00000","#f40000","#ff1400","#ff2c00"]},"legend":null},"detail":{"field":"b"},"order":{"value":null}}},
{"data":{"name":"poly"},"transform":[{"filter":"datum.b!=='a'"}],"mark":{"type":"line","interpolate":"cardinal-closed","stroke":"transparent","strokeWidth":0,"clip":true},"encoding":{
"x":{"field":"z","type":"quantitative"},"y":{"field":"y","type":"quantitative"},
"fill":{"field":"b","type":"nominal","scale":{"domain":["a","b","c","d","e","f","g"],"range":["#5a0000","#9c0000","#c40000","#e00000","#f40000","#ff1400","#ff2c00"]},"legend":null},"detail":{"field":"b"},"order":{"value":null}}},
{"data":{"name":"glow"},"mark":{"type":"circle","color":"#ffa800","opacity":0.12,"clip":true},"encoding":{"x":{"field":"z","type":"quantitative"},"y":{"field":"y","type":"quantitative"},"size":{"field":"rad","type":"quantitative","scale":{"domain":[1,12],"range":[20,3400]},"legend":null}}},
{"data":{"name":"spots"},"mark":{"type":"circle","size":34,"color":"#ff4a00","opacity":0.85,"clip":true},"encoding":{"x":{"field":"z","type":"quantitative"},"y":{"field":"y","type":"quantitative"}}},
{"data":{"name":"spots"},"mark":{"type":"circle","size":7,"color":"#ffb000","opacity":1,"clip":true},"encoding":{"x":{"field":"z","type":"quantitative"},"y":{"field":"y","type":"quantitative"}}},
{"data":{"name":"comsImg"},"mark":{"type":"point","filled":true,"size":240,"color":"black","stroke":"white","strokeWidth":1.2,"opacity":1,"clip":true},"encoding":{"x":{"field":"z","type":"quantitative"},"y":{"field":"y","type":"quantitative"},
"shape":{"field":"kind","type":"nominal","scale":{"domain":["FoF COM","GraphShed COMs"],"range":["square","M-0.5,-1L0,-0.5L0.5,-1L1,-0.5L0.5,0L1,0.5L0.5,1L0,0.5L-0.5,1L-1,0.5L-0.5,0L-1,-0.5Z"]},"legend":{"orient":"top-right","offset":8,"fillColor":"#333","strokeColor":"#555","labelColor":"#e8e8e8","symbolSize":170,"symbolFillColor":"black","symbolStrokeColor":"white","symbolStrokeWidth":1.2,"labelFontSize":12.5,"labelOffset":16,"symbolOffset":8,"padding":3,"rowPadding":0}}}}
]},
{"width":344,"height":300,"layer":[
{"data":{"name":"poly"},"transform":[{"filter":"datum.b==='a'"}],"mark":{"type":"line","stroke":"#5a0000","strokeWidth":3,"strokeDash":[1,2],"clip":true},"encoding":{
"x":{"field":"z","type":"quantitative","scale":{"domain":[16.09,19.46],"zero":false,"nice":false},"axis":{"values":[17,18,19],"format":"d","title":"Z (𝑀𝑝𝑐/ℎ)","titleFontSize":21,"titlePadding":5,"labelPadding":5}},
"y":{"field":"y","type":"quantitative","scale":{"domain":[25.15,27.44],"zero":false,"nice":false},"axis":{"values":[25.5,26,26.5,27],"format":".1f"}},
"fill":{"field":"b","type":"nominal","scale":{"domain":["a","b","c","d","e","f","g"],"range":["#5a0000","#9c0000","#c40000","#e00000","#f40000","#ff1400","#ff2c00"]},"legend":null},"detail":{"field":"b"},"order":{"value":null}}},
{"data":{"name":"poly"},"transform":[{"filter":"datum.b!=='a'"}],"mark":{"type":"line","interpolate":"cardinal-closed","stroke":"transparent","strokeWidth":0,"clip":true},"encoding":{
"x":{"field":"z","type":"quantitative"},"y":{"field":"y","type":"quantitative"},
"fill":{"field":"b","type":"nominal","scale":{"domain":["a","b","c","d","e","f","g"],"range":["#5a0000","#9c0000","#c40000","#e00000","#f40000","#ff1400","#ff2c00"]},"legend":null},"detail":{"field":"b"},"order":{"value":null}}},
{"data":{"name":"glow"},"mark":{"type":"circle","color":"#ffa800","opacity":0.12,"clip":true},"encoding":{"x":{"field":"z","type":"quantitative"},"y":{"field":"y","type":"quantitative"},"size":{"field":"rad","type":"quantitative","scale":{"domain":[1,12],"range":[20,3400]},"legend":null}}},
{"data":{"name":"spots"},"mark":{"type":"circle","size":34,"color":"#ff4a00","opacity":0.85,"clip":true},"encoding":{"x":{"field":"z","type":"quantitative"},"y":{"field":"y","type":"quantitative"}}},
{"data":{"name":"spots"},"mark":{"type":"circle","size":7,"color":"#ffb000","opacity":1,"clip":true},"encoding":{"x":{"field":"z","type":"quantitative"},"y":{"field":"y","type":"quantitative"}}},
{"data":{"name":"contours"},"mark":{"type":"line","stroke":"white","strokeWidth":2.2,"clip":true},"encoding":{"x":{"field":"z","type":"quantitative"},"y":{"field":"y","type":"quantitative"},"detail":{"field":"k"},"order":{"value":null},
"strokeDash":{"field":"k","type":"nominal","scale":{"domain":["Level 5","Level 5.6","Level 6.2"],"range":[[1,0],[9,5],[2,5]]},"legend":{"orient":"bottom-left","offset":8,"fillColor":"rgba(40,40,40,0.85)","strokeColor":"#777","labelColor":"#e8e8e8","symbolType":"M-1.5,0L1.5,0","symbolFillColor":"transparent","symbolStrokeColor":"white","symbolStrokeWidth":2.2,"symbolSize":484,"labelFontSize":15,"labelOffset":12,"symbolOffset":8.5,"padding":3,"rowPadding":3}}}},
{"data":{"name":"comsImg2"},"mark":{"type":"point","filled":true,"size":240,"color":"black","stroke":"white","strokeWidth":1.2,"opacity":1,"clip":true,"shape":"M-0.5,-1L0,-0.5L0.5,-1L1,-0.5L0.5,0L1,0.5L0.5,1L0,0.5L-0.5,1L-1,0.5L-0.5,0L-1,-0.5Z"},"encoding":{"x":{"field":"z","type":"quantitative"},"y":{"field":"y","type":"quantitative"}}}
]}
]}
